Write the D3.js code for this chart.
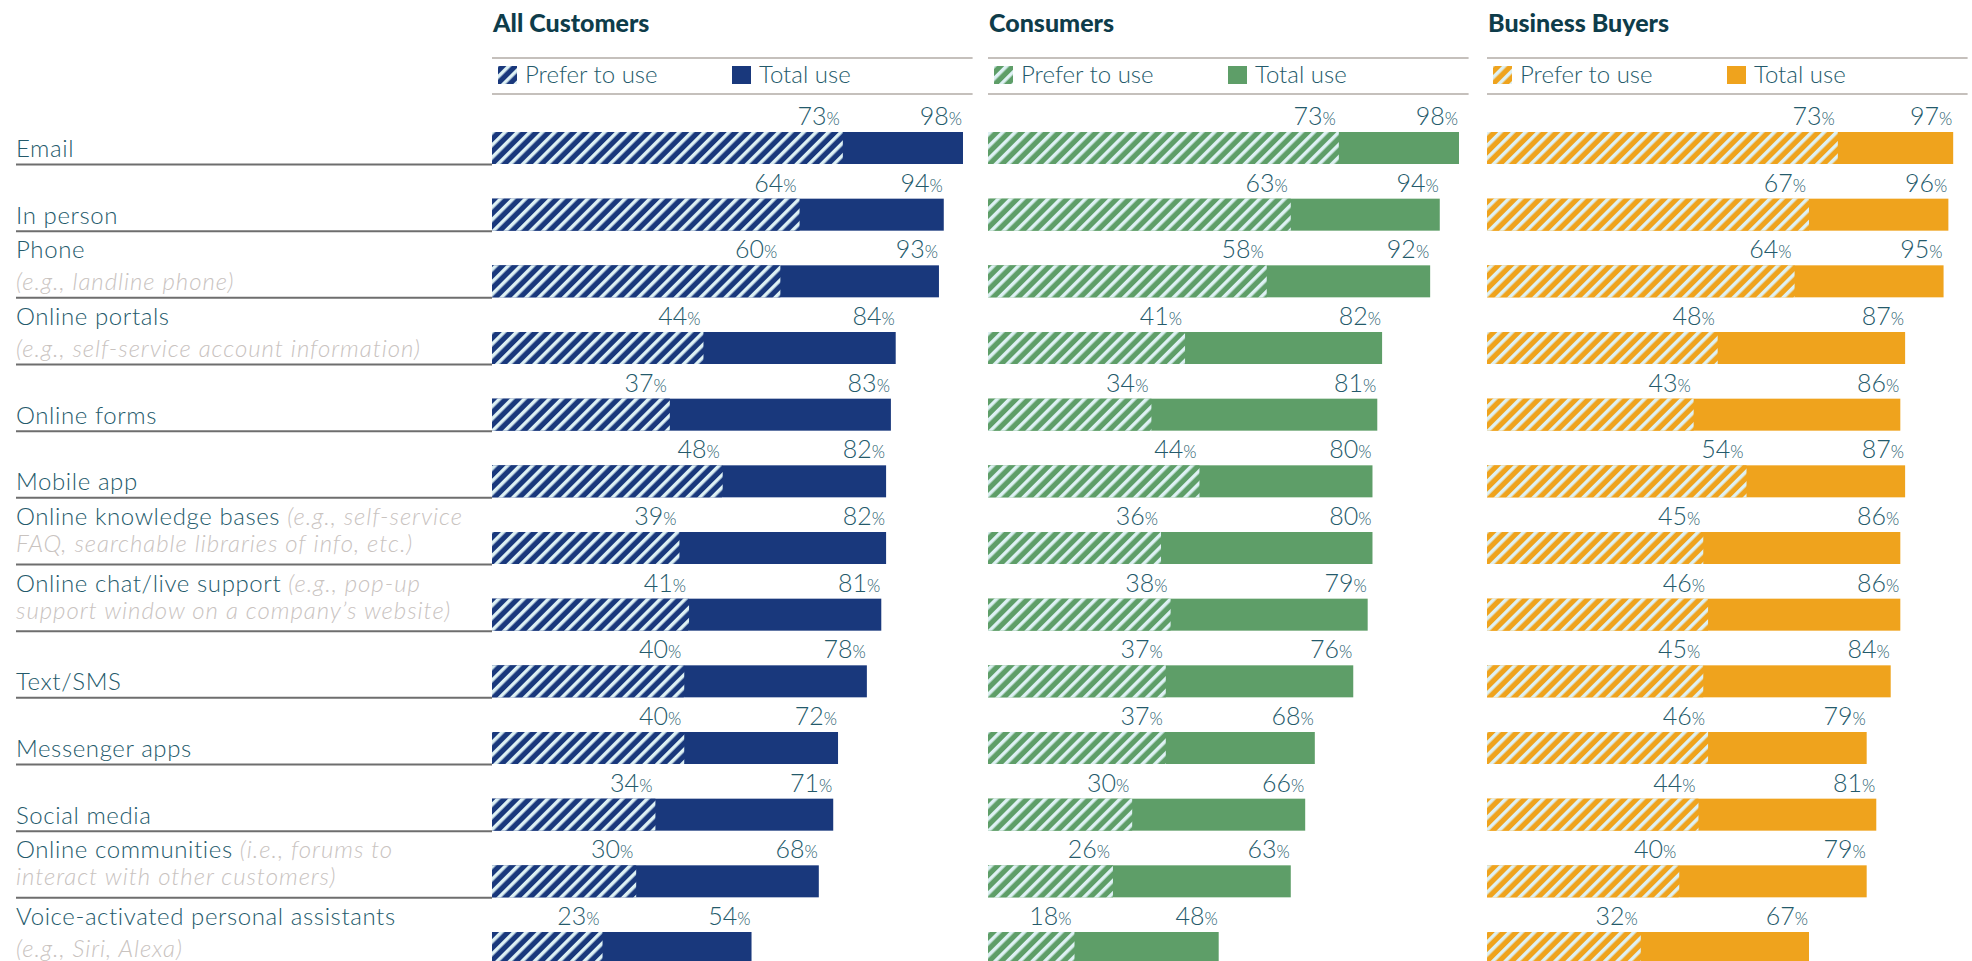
<!DOCTYPE html>
<html>
<head>
<meta charset="utf-8">
<script src="https://cdn.jsdelivr.net/npm/d3@7"></script>
<style>
  body { margin: 0; background: #fff; }
  svg { display: block; }
</style>
</head>
<body>
<svg id="chart"></svg>
<script>
// data
var categories = [
  "Email", "In person", "Phone", "Online portals", "Online forms", "Mobile app",
  "Online knowledge bases", "Online chat/live support", "Text/SMS", "Messenger apps",
  "Social media", "Online communities", "Voice-activated personal assistants"
];
// label lines: [main text, grey note] per line
var labelLines = [
  [["Email", ""]],
  [["In person", ""]],
  [["Phone", ""], ["", "(e.g., landline phone)"]],
  [["Online portals", ""], ["", "(e.g., self-service account information)"]],
  [["Online forms", ""]],
  [["Mobile app", ""]],
  [["Online knowledge bases ", "(e.g., self-service"], ["", "FAQ, searchable libraries of info, etc.)"]],
  [["Online chat/live support ", "(e.g., pop-up"], ["", "support window on a company\u2019s website)"]],
  [["Text/SMS", ""]],
  [["Messenger apps", ""]],
  [["Social media", ""]],
  [["Online communities ", "(i.e., forums to"], ["", "interact with other customers)"]],
  [["Voice-activated personal assistants", ""], ["", "(e.g., Siri, Alexa)"]]
];
var groups = ["All Customers", "Consumers", "Business Buyers"];
var groupColors = ["#19387c", "#5e9e68", "#efa31d"];

var allPrefer = [73, 64, 60, 44, 37, 48, 39, 41, 40, 40, 34, 30, 23];
var allTotal  = [98, 94, 93, 84, 83, 82, 82, 81, 78, 72, 71, 68, 54];
var conPrefer = [73, 63, 58, 41, 34, 44, 36, 38, 37, 37, 30, 26, 18];
var conTotal  = [98, 94, 92, 82, 81, 80, 80, 79, 76, 68, 66, 63, 48];
var bizPrefer = [73, 67, 64, 48, 43, 54, 45, 46, 45, 46, 44, 40, 32];
var bizTotal  = [97, 96, 95, 87, 86, 87, 86, 86, 84, 79, 81, 79, 67];

var preferSets = [allPrefer, conPrefer, bizPrefer];
var totalSets = [allTotal, conTotal, bizTotal];

// sizes
var size = { width: 1972, height: 961 };
var panelLeft = [492, 988, 1487];
var panelWidth = 480.6;
var textColor = "#245a6b";
var noteColor = "#c9c3bf";
var hatchLight = "#def1f4";

var svg = d3.select("#chart")
  .attr("width", size.width)
  .attr("height", size.height);

var defs = svg.append("defs");
groupColors.forEach(function(c, i){
  var p = defs.append("pattern")
    .attr("id", "hatch" + i)
    .attr("patternUnits", "userSpaceOnUse")
    .attr("width", 8.8)
    .attr("height", 8.8)
    .attr("patternTransform", "rotate(45)");
  p.append("rect").attr("width", 8.8).attr("height", 8.8).attr("fill", c);
  p.append("rect").attr("width", 3.5).attr("height", 8.8).attr("fill", hatchLight);
});

var y = d3.scaleBand()
  .domain(categories)
  .range([132, 964])
  .paddingInner(0.52)
  .paddingOuter(0)
  .align(0);

// row labels
var rows = svg.append("g").attr("class", "labels");
categories.forEach(function(cat, i){
  var bottom = y(cat) + y.bandwidth();
  var lines = labelLines[i];
  var g = rows.append("g");
  lines.forEach(function(ln, j){
    var base;
    if (lines.length === 1) base = bottom - 7;
    else if (j === 0) base = bottom - 39;
    else base = (lines[0][1] === "") ? bottom - 7 : bottom - 12;
    var t = g.append("text")
      .attr("x", 16)
      .attr("y", base)
      .style("font-family", "Lato, 'Open Sans', sans-serif")
      .style("font-weight", 300)
      .style("font-size", "24px");
    if (ln[0]) t.append("tspan").attr("fill", textColor).style("letter-spacing", "0.6px").text(ln[0]);
    if (ln[1]) t.append("tspan").attr("fill", noteColor).style("font-style", "italic").style("letter-spacing", "0.95px").text(ln[1]);
  });
  if (i < categories.length - 1) {
    g.append("line")
      .attr("x1", 16).attr("x2", 492)
      .attr("y1", bottom + 0.5).attr("y2", bottom + 0.5)
      .attr("stroke", "#6e6e6e")
      .attr("stroke-width", 2);
  }
});

// panels
groups.forEach(function(name, gi){
  var x = d3.scaleLinear().domain([0, 100]).range([panelLeft[gi], panelLeft[gi] + panelWidth]);
  var panel = svg.append("g").attr("class", "panel");

  panel.append("text")
    .attr("x", panelLeft[gi] + 1)
    .attr("y", 32)
    .attr("fill", "#0e3c4a")
    .style("font-family", "Lato, sans-serif")
    .style("font-weight", 900)
    .style("font-size", "25px")
    .text(name);

  [58, 94].forEach(function(ry){
    panel.append("line")
      .attr("x1", x(0)).attr("x2", x(100))
      .attr("y1", ry).attr("y2", ry)
      .attr("stroke", "#c5c0bc")
      .attr("stroke-width", 2);
  });

  // legend
  var legend = [
    { label: "Prefer to use", fill: "url(#hatch" + gi + ")", dx: 6 },
    { label: "Total use", fill: groupColors[gi], dx: 240 }
  ];
  legend.forEach(function(d){
    panel.append("rect")
      .attr("x", x(0) + d.dx).attr("y", 66)
      .attr("width", 19).attr("height", 18)
      .attr("fill", d.fill);
    panel.append("text")
      .attr("x", x(0) + d.dx + 27)
      .attr("y", 83)
      .attr("fill", textColor)
      .style("font-family", "Lato, 'Open Sans', sans-serif")
      .style("font-weight", 300)
      .style("font-size", "24px")
      .text(d.label);
  });

  var prefer = preferSets[gi];
  var total = totalSets[gi];

  panel.selectAll("rect.total")
    .data(categories)
    .enter().append("rect")
    .attr("class", "total")
    .attr("x", x(0))
    .attr("y", function(d){ return y(d); })
    .attr("width", function(d, i){ return x(total[i]) - x(0); })
    .attr("height", y.bandwidth())
    .attr("fill", groupColors[gi]);

  panel.selectAll("rect.prefer")
    .data(categories)
    .enter().append("rect")
    .attr("class", "prefer")
    .attr("x", x(0))
    .attr("y", function(d){ return y(d); })
    .attr("width", function(d, i){ return x(prefer[i]) - x(0); })
    .attr("height", y.bandwidth())
    .attr("fill", "url(#hatch" + gi + ")");

  function addValue(val, xpos, ypos){
    var t = panel.append("text")
      .attr("x", xpos)
      .attr("y", ypos)
      .attr("text-anchor", "end")
      .attr("fill", textColor)
      .style("font-family", "Lato, 'Open Sans', sans-serif")
      .style("font-weight", 300)
      .style("font-size", "25px");
    t.append("tspan").text(val);
    t.append("tspan").style("font-size", "17px").text("%");
  }

  categories.forEach(function(cat, i){
    addValue(prefer[i], x(prefer[i]) - 3, y(cat) - 7);
    addValue(total[i], x(total[i]) - 1, y(cat) - 7);
  });
});
</script>
</body>
</html>
